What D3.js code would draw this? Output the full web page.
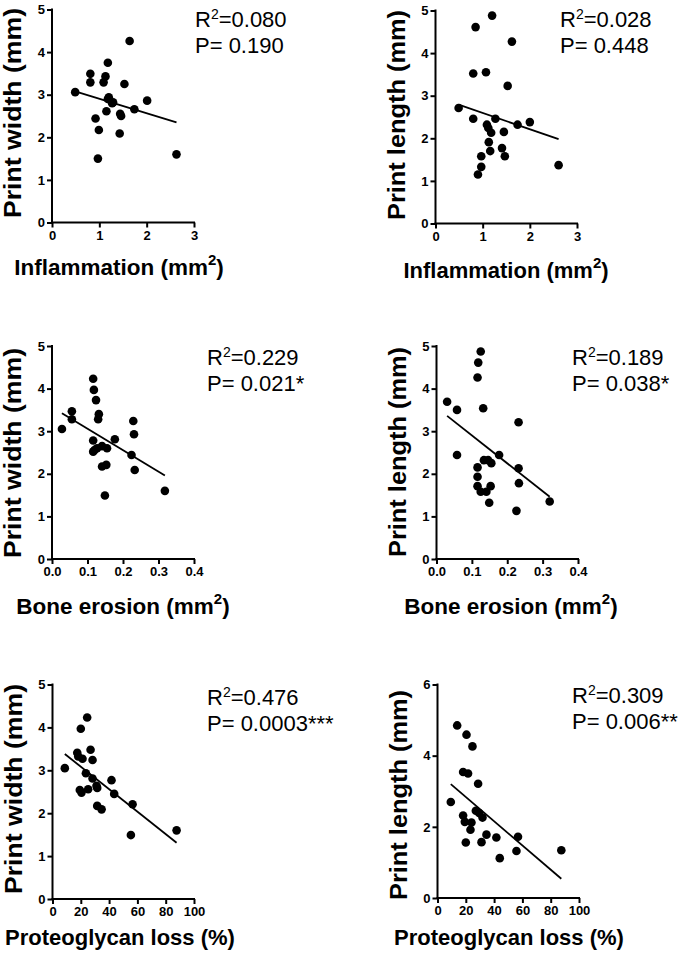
<!DOCTYPE html>
<html><head><meta charset="utf-8">
<script src="https://cdn.jsdelivr.net/npm/d3@7"></script>
<style>body{margin:0;background:#fff}svg{display:block}</style>
</head><body>
<svg id="c" width="681" height="959"></svg>
<script>
// ---- data ----
const inflamW_x = [0.49,0.81,0.81,1.18,1.64,1.13,1.09,1.53,1.18,1.29,1.27,1.15,0.92,0.99,0.97,1.44,1.46,1.43,1.74,2.01,2.63,1.20];
const inflamW_y = [3.06,3.49,3.29,3.75,4.26,3.43,3.29,3.25,2.90,2.82,2.80,2.61,2.44,2.17,1.50,2.55,2.50,2.09,2.66,2.86,1.60,2.94];
const inflamW_fit = [[0.49,3.08],[2.63,2.35]];

const inflamL_x = [1.20,0.85,1.62,0.80,1.07,1.53,0.49,0.80,1.27,1.09,1.12,1.18,1.74,2.00,1.45,1.13,1.41,1.16,0.97,1.47,0.97,0.90,2.61];
const inflamL_y = [4.88,4.61,4.27,3.52,3.55,3.23,2.71,2.46,2.46,2.32,2.24,2.13,2.32,2.38,2.15,1.91,1.77,1.70,1.58,1.58,1.33,1.15,1.37];
const inflamL_fit = [[0.49,2.79],[2.61,1.98]];

const boneW_x = [0.028,0.056,0.056,0.116,0.118,0.124,0.132,0.130,0.116,0.116,0.120,0.127,0.141,0.155,0.177,0.141,0.153,0.149,0.229,0.231,0.224,0.233,0.318];
const boneW_y = [3.05,3.47,3.28,4.23,3.97,3.73,3.40,3.28,2.78,2.52,2.56,2.60,2.65,2.60,2.81,2.17,2.21,1.49,3.24,2.93,2.44,2.09,1.60];
const boneW_fit = [[0.028,3.42],[0.318,1.96]];

const boneL_x = [0.030,0.058,0.058,0.125,0.118,0.116,0.132,0.232,0.177,0.134,0.146,0.155,0.116,0.116,0.232,0.233,0.116,0.125,0.141,0.153,0.149,0.226,0.320];
const boneL_y = [3.69,3.50,2.44,4.87,4.61,4.26,3.54,3.21,2.44,2.32,2.32,2.25,2.15,1.93,2.13,1.78,1.71,1.58,1.58,1.71,1.32,1.13,1.35];
const boneL_fit = [[0.030,3.36],[0.320,1.46]];

const pgW_x = [8.7,17.5,18.2,21.2,24.5,20.0,26.9,28.3,23.6,28.3,31.1,31.6,25.2,19.3,20.5,31.6,34.7,41.7,43.6,56.6,55.4,87.7];
const pgW_y = [3.05,3.41,3.32,3.27,4.23,3.97,3.48,3.24,2.93,2.81,2.64,2.59,2.56,2.54,2.48,2.17,2.09,2.77,2.45,2.21,1.49,1.60];
const pgW_fit = [[8.7,3.38],[87.7,1.31]];

const pgL_x = [9.4,13.9,20.5,24.7,18.1,21.6,28.7,18.1,19.3,24.0,23.3,20.0,27.1,29.4,31.8,34.6,31.1,41.6,44.0,56.9,55.8,87.5];
const pgL_y = [2.70,4.85,4.59,4.26,3.54,3.50,3.21,2.32,2.14,2.12,1.92,1.56,2.45,2.39,2.26,1.78,1.57,1.70,1.12,1.72,1.32,1.34];
const pgL_fit = [[9.4,3.20],[87.5,0.54]];

const inflamTicks = [0,1,2,3];
const boneTicks = [0.0,0.1,0.2,0.3,0.4];
const pgTicks = [0,20,40,60,80,100];
const yTicks5 = [0,1,2,3,4,5];
const yTicks6 = [0,2,4,6];

const statsR = ["0.080","0.028","0.229","0.189","0.476","0.309"];
const statsP = ["0.190","0.448","0.021*","0.038*","0.0003***","0.006**"];
const yTitles = ["Print width","Print length","Print width","Print length","Print width","Print length"];
const xTitles = ["Inflammation","Inflammation","Bone erosion","Bone erosion","Proteoglycan loss (%)","Proteoglycan loss (%)"];

// ---- layout ----
const svg = d3.select("#c");
const FONT = "'Liberation Sans', Arial, Helvetica, sans-serif";

const panels = [
  {x:inflamW_x,y:inflamW_y,fit:inflamW_fit,xd:[0,3],xt:inflamTicks,fmt:d3.format("d"),yd:[0,5],yt:yTicks5,l:52,r:194,t:9.5,b:222.5,sx:195,sy:27,xty:275,xtc:119,xfs:22.5,yc:113,sup:true},
  {x:inflamL_x,y:inflamL_y,fit:inflamL_fit,xd:[0,3],xt:inflamTicks,fmt:d3.format("d"),yd:[0,5],yt:yTicks5,l:435.5,r:577,t:10.5,b:223.5,sx:560,sy:27,xty:278,xtc:506,xfs:22,yc:115,sup:true},
  {x:boneW_x,y:boneW_y,fit:boneW_fit,xd:[0,0.4],xt:boneTicks,fmt:d3.format(".1f"),yd:[0,5],yt:yTicks5,l:52,r:194,t:346,b:559,sx:207,sy:365,xty:614,xtc:123,xfs:22.5,yc:453,sup:true},
  {x:boneL_x,y:boneL_y,fit:boneL_fit,xd:[0,0.4],xt:boneTicks,fmt:d3.format(".1f"),yd:[0,5],yt:yTicks5,l:436.5,r:578,t:346,b:559,sx:572,sy:365,xty:614,xtc:511,xfs:22.5,yc:452,sup:true},
  {x:pgW_x,y:pgW_y,fit:pgW_fit,xd:[0,100],xt:pgTicks,fmt:d3.format("d"),yd:[0,5],yt:yTicks5,l:52.5,r:194,t:684.5,b:899,sx:207,sy:705,xty:945,xtc:120,xfs:22,yc:789,sup:false},
  {x:pgL_x,y:pgL_y,fit:pgL_fit,xd:[0,100],xt:pgTicks,fmt:d3.format("d"),yd:[0,6],yt:yTicks6,l:437.5,r:579,t:684.5,b:898,sx:572,sy:703,xty:945,xtc:509,xfs:22,yc:795,sup:false}
];

panels.forEach((p,i)=>{
  const xs = d3.scaleLinear().domain(p.xd).range([p.l,p.r]);
  const ys = d3.scaleLinear().domain(p.yd).range([p.b,p.t]);
  const g = svg.append("g");

  const xa = g.append("g").attr("transform",`translate(0,${p.b})`)
    .call(d3.axisBottom(xs).tickValues(p.xt).tickFormat(p.fmt).tickSizeOuter(0).tickSize(5).tickPadding(3));
  const ya = g.append("g").attr("transform",`translate(${p.l},0)`)
    .call(d3.axisLeft(ys).tickValues(p.yt).tickFormat(d3.format("d")).tickSizeOuter(0).tickSize(5).tickPadding(2));
  [xa,ya].forEach(a=>{
    a.select(".domain").attr("stroke","#000").attr("stroke-width",2);
    a.selectAll(".tick line").attr("stroke","#000").attr("stroke-width",2);
    a.selectAll(".tick text").attr("fill","#000").attr("font-family",FONT)
      .attr("font-size",13).attr("font-weight","bold");
  });
  xa.select(".domain").attr("d",`M${p.l-1},0H${p.r+1}`);
  ya.select(".domain").attr("d",`M0,${p.t-1}V${p.b+1}`);

  // fit line
  g.append("line")
    .attr("x1",xs(p.fit[0][0])).attr("y1",ys(p.fit[0][1]))
    .attr("x2",xs(p.fit[1][0])).attr("y2",ys(p.fit[1][1]))
    .attr("stroke","#000").attr("stroke-width",1.8);

  // points
  g.selectAll("circle.pt").data(p.x.map((v,k)=>[v,p.y[k]])).enter()
    .append("circle").attr("class","pt")
    .attr("cx",d=>xs(d[0])).attr("cy",d=>ys(d[1])).attr("r",4.3).attr("fill","#000");

  // stats
  const st = g.append("text").attr("x",p.sx).attr("y",p.sy)
    .attr("font-family",FONT).attr("font-size",22).attr("fill","#000");
  st.append("tspan").text("R");
  st.append("tspan").attr("font-size",14).attr("dy",-8).text("2");
  st.append("tspan").attr("dy",8).text("="+statsR[i]);
  g.append("text").attr("x",p.sx).attr("y",p.sy+26)
    .attr("font-family",FONT).attr("font-size",22).attr("fill","#000")
    .text("P= "+statsP[i]);

  // y title
  g.append("text")
    .attr("transform",`translate(${p.l-31},${p.yc}) rotate(-90)`)
    .attr("text-anchor","middle").attr("font-family",FONT).attr("font-size",23.5)
    .attr("font-weight","bold").attr("fill","#000")
    .attr("textLength",210).attr("lengthAdjust","spacingAndGlyphs")
    .text(yTitles[i]+" (mm)");

  // x title
  const xt = g.append("text").attr("x",p.xtc).attr("y",p.xty)
    .attr("text-anchor","middle").attr("font-family",FONT).attr("font-size",p.xfs)
    .attr("font-weight","bold").attr("fill","#000");
  if(p.sup){
    xt.append("tspan").text(xTitles[i]+" (mm");
    xt.append("tspan").attr("font-size",15).attr("dy",-10).text("2");
    xt.append("tspan").attr("dy",10).text(")");
  } else {
    xt.text(xTitles[i]);
  }
});
</script>
</body></html>
